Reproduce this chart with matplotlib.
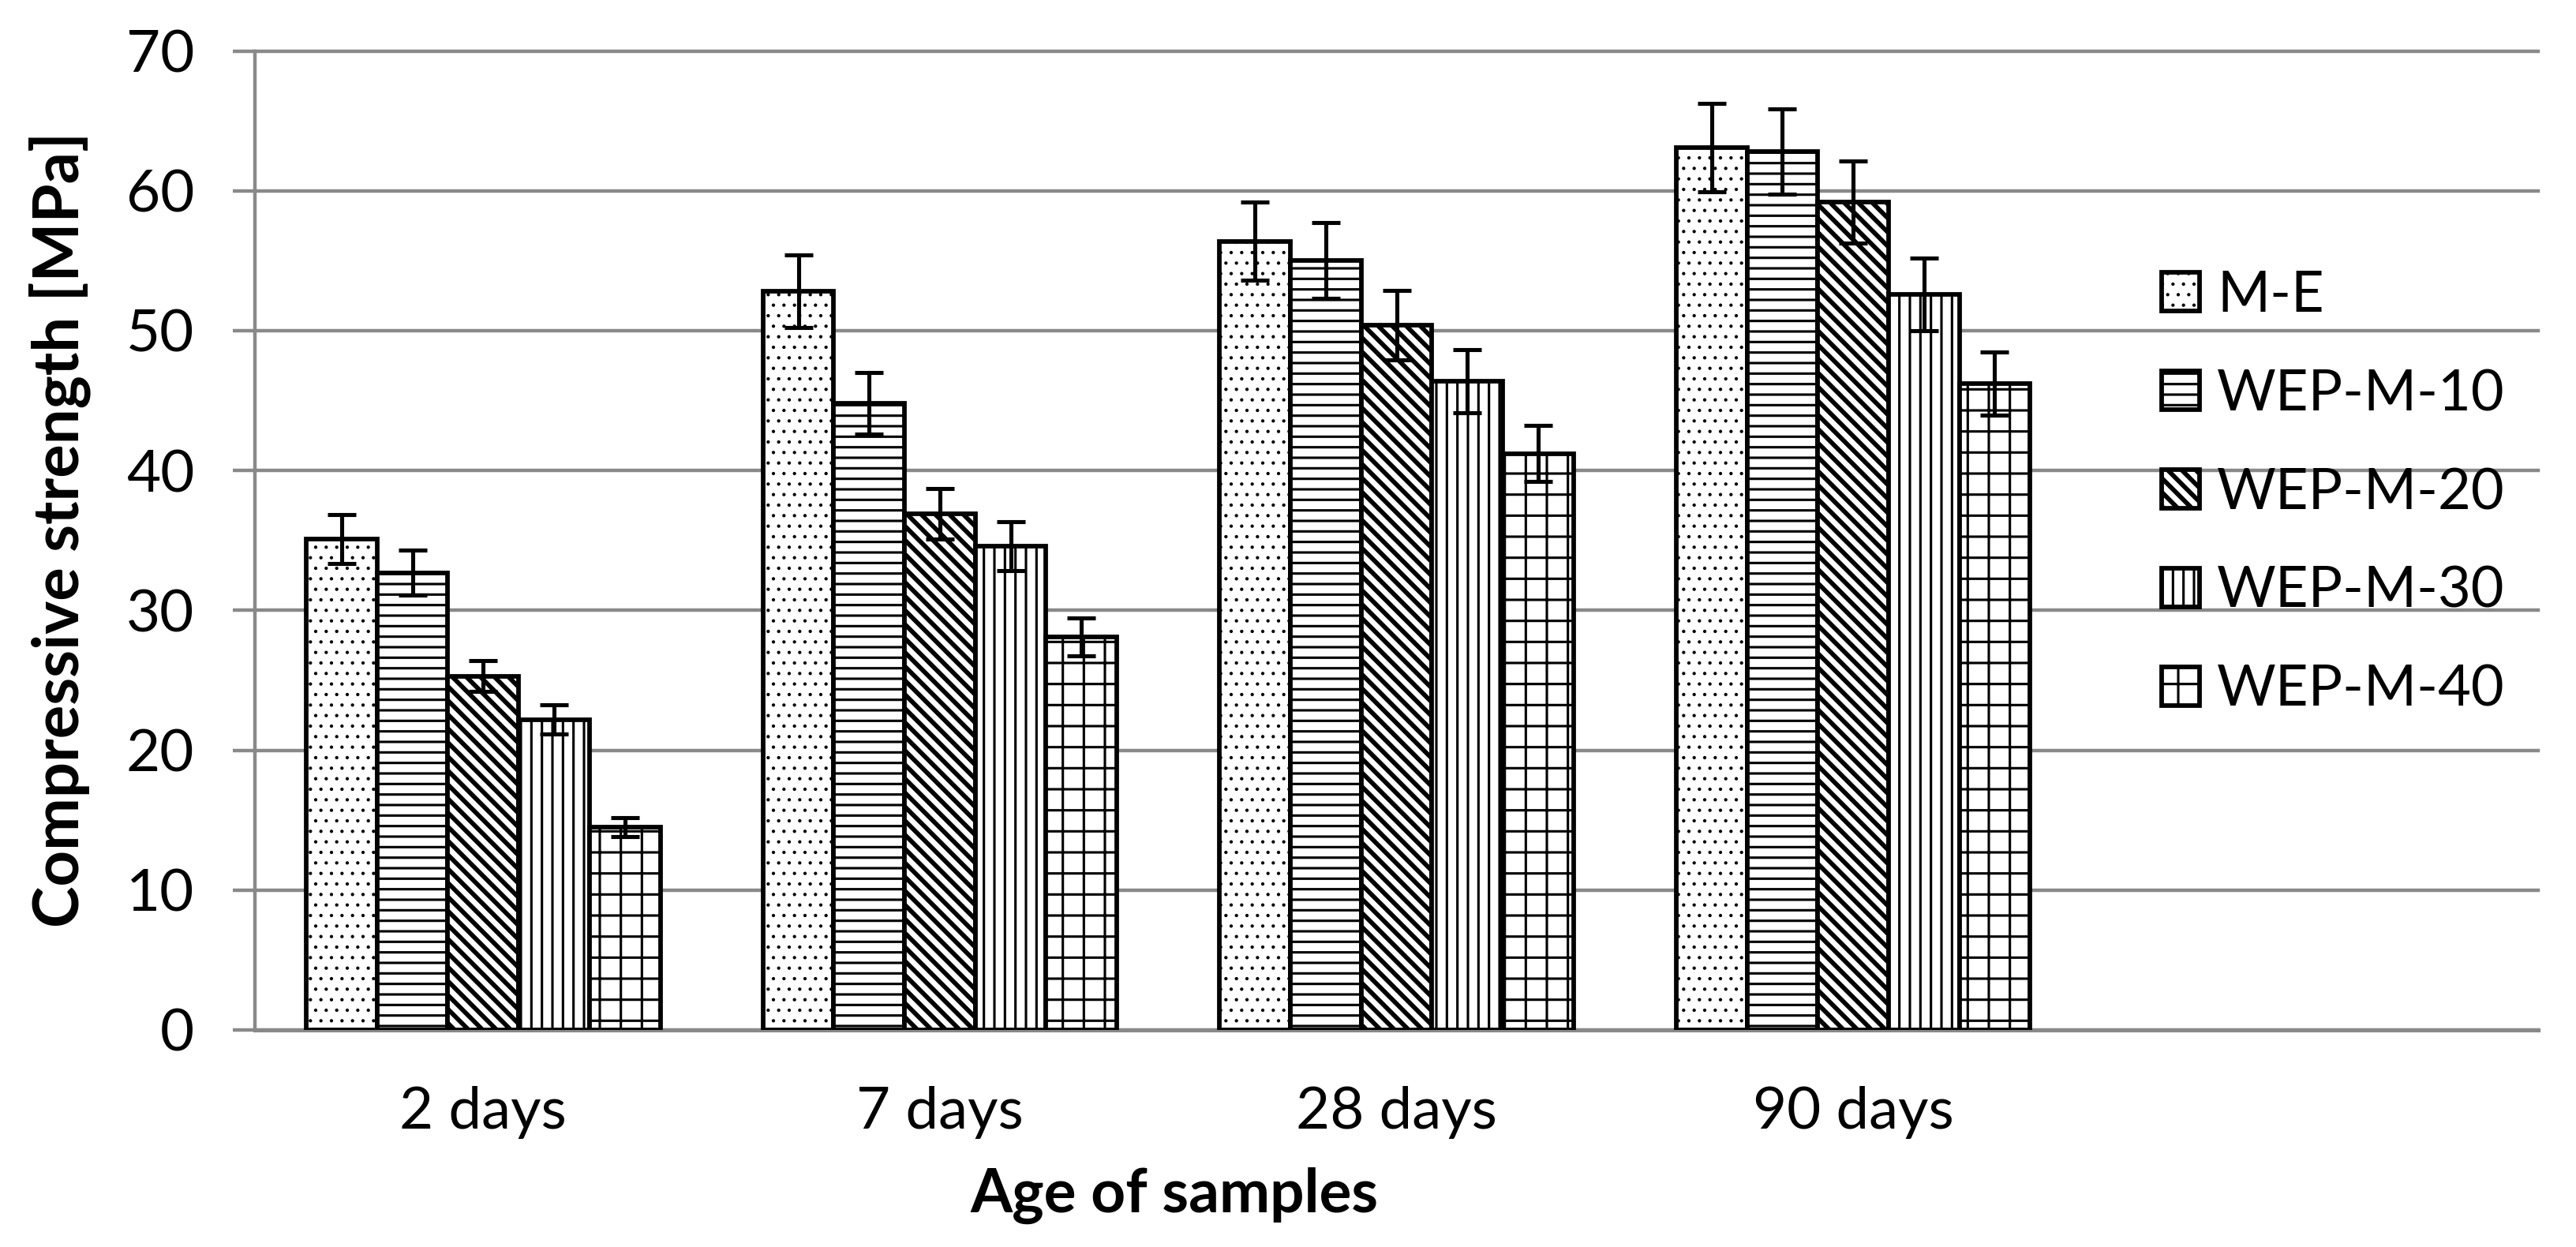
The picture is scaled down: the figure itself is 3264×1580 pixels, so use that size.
import matplotlib
matplotlib.use('Agg')
import matplotlib.pyplot as plt
import numpy as np

# ---------------- data ----------------
categories = ['2 days', '7 days', '28 days', '90 days', '']
series = ['M-E', 'WEP-M-10', 'WEP-M-20', 'WEP-M-30', 'WEP-M-40']

me_vals = [35.1, 52.8, 56.4, 63.1]
wep10_vals = [32.7, 44.8, 55.0, 62.8]
wep20_vals = [25.3, 36.9, 50.4, 59.2]
wep30_vals = [22.2, 34.6, 46.4, 52.6]
wep40_vals = [14.5, 28.1, 41.2, 46.2]

me_err = [1.75, 2.6, 2.8, 3.15]
wep10_err = [1.6, 2.2, 2.7, 3.05]
wep20_err = [1.1, 1.8, 2.5, 2.95]
wep30_err = [1.05, 1.75, 2.25, 2.6]
wep40_err = [0.7, 1.35, 2.0, 2.25]

values = [me_vals, wep10_vals, wep20_vals, wep30_vals, wep40_vals]
errors = [me_err, wep10_err, wep20_err, wep30_err, wep40_err]
hatches = ['..', '--', '\\\\\\', '||', '+']
hatch_lws = [0.7, 1.4, 2.6, 1.4, 1.4]

y_ticks = [0, 10, 20, 30, 40, 50, 60, 70]

# ---------------- style ----------------
DPI = 160
plt.rcParams['font.family'] = ['Lato', 'DejaVu Sans']
GRAY = '#898989'


def with_hatch_lw(artist, lw):
    """Make sure an artist's hatch is drawn with its own line width."""
    if hasattr(artist, 'set_hatch_linewidth'):
        try:
            artist.set_hatch_linewidth(lw)
        except Exception:
            pass
    orig = artist.draw

    def draw(renderer, _orig=orig, _lw=lw):
        with plt.rc_context({'hatch.linewidth': _lw}):
            _orig(renderer)
    artist.draw = draw


fig = plt.figure(figsize=(3264 / DPI, 1580 / DPI), dpi=DPI)
ax = fig.add_axes([323 / 3264, 1 - 1305 / 1580,
                   (3216 - 323) / 3264, (1305 - 64.5) / 1580])

x = np.arange(len(categories))
n_groups = len(values[0])
bar_w = 0.155

for i, (name, vals, errs, h, hlw) in enumerate(
        zip(series, values, errors, hatches, hatch_lws)):
    plt.rcParams['hatch.linewidth'] = hlw
    pos = x[:n_groups] + (i - 2) * bar_w
    bars = ax.bar(pos, vals, width=bar_w, yerr=errs, label=name,
                  facecolor='white', edgecolor='black', linewidth=2.6,
                  hatch=h, zorder=3,
                  error_kw=dict(ecolor='black', elinewidth=2.3,
                                capsize=7.9, capthick=2.3, zorder=4))
    for b in bars:
        with_hatch_lw(b, hlw)

ax.set_xlim(-0.5, len(categories) - 0.5)
ax.set_ylim(0, 70)
ax.set_xticks(x)
ax.set_xticklabels(categories)
ax.set_yticks(y_ticks)

ax.yaxis.grid(True, color=GRAY, linewidth=2.0, zorder=0)
ax.set_axisbelow(True)
for gl in ax.get_ygridlines():
    gl.set_clip_on(False)

for s in ['top', 'right']:
    ax.spines[s].set_visible(False)
ax.spines['left'].set_color(GRAY)
ax.spines['left'].set_linewidth(2.0)
ax.spines['bottom'].set_color(GRAY)
ax.spines['bottom'].set_linewidth(2.3)

ax.tick_params(axis='y', direction='out', length=12.6, width=2.0,
               color=GRAY, pad=22, labelsize=33.5, labelcolor='black')
ax.tick_params(axis='x', length=0, pad=32, labelsize=33.5, labelcolor='black')

ax.set_xlabel('Age of samples', fontsize=34.5, fontweight='bold', labelpad=16)
ax.xaxis.label.set_x(0.4027)
ax.set_ylabel('Compressive strength [MPa]', fontsize=35.8, fontweight='bold',
              labelpad=20)
ax.yaxis.label.set_y(0.511)

leg = ax.legend(loc='center left', bbox_to_anchor=(2739 / 3264, 1 - 624.5 / 1580),
                bbox_transform=fig.transFigure, frameon=False, fontsize=32.5,
                handlelength=0.67, handleheight=0.67, handletextpad=0.3,
                labelspacing=0.83, borderpad=0, borderaxespad=0)
handles = getattr(leg, 'legend_handles', None) or getattr(leg, 'legendHandles', [])
for hnd, hlw in zip(handles, hatch_lws):
    hnd.set_linewidth(2.6)
    with_hatch_lw(hnd, hlw)

plt.rcParams['hatch.linewidth'] = 1.4
fig.savefig('out.png', dpi=DPI, facecolor='white')
